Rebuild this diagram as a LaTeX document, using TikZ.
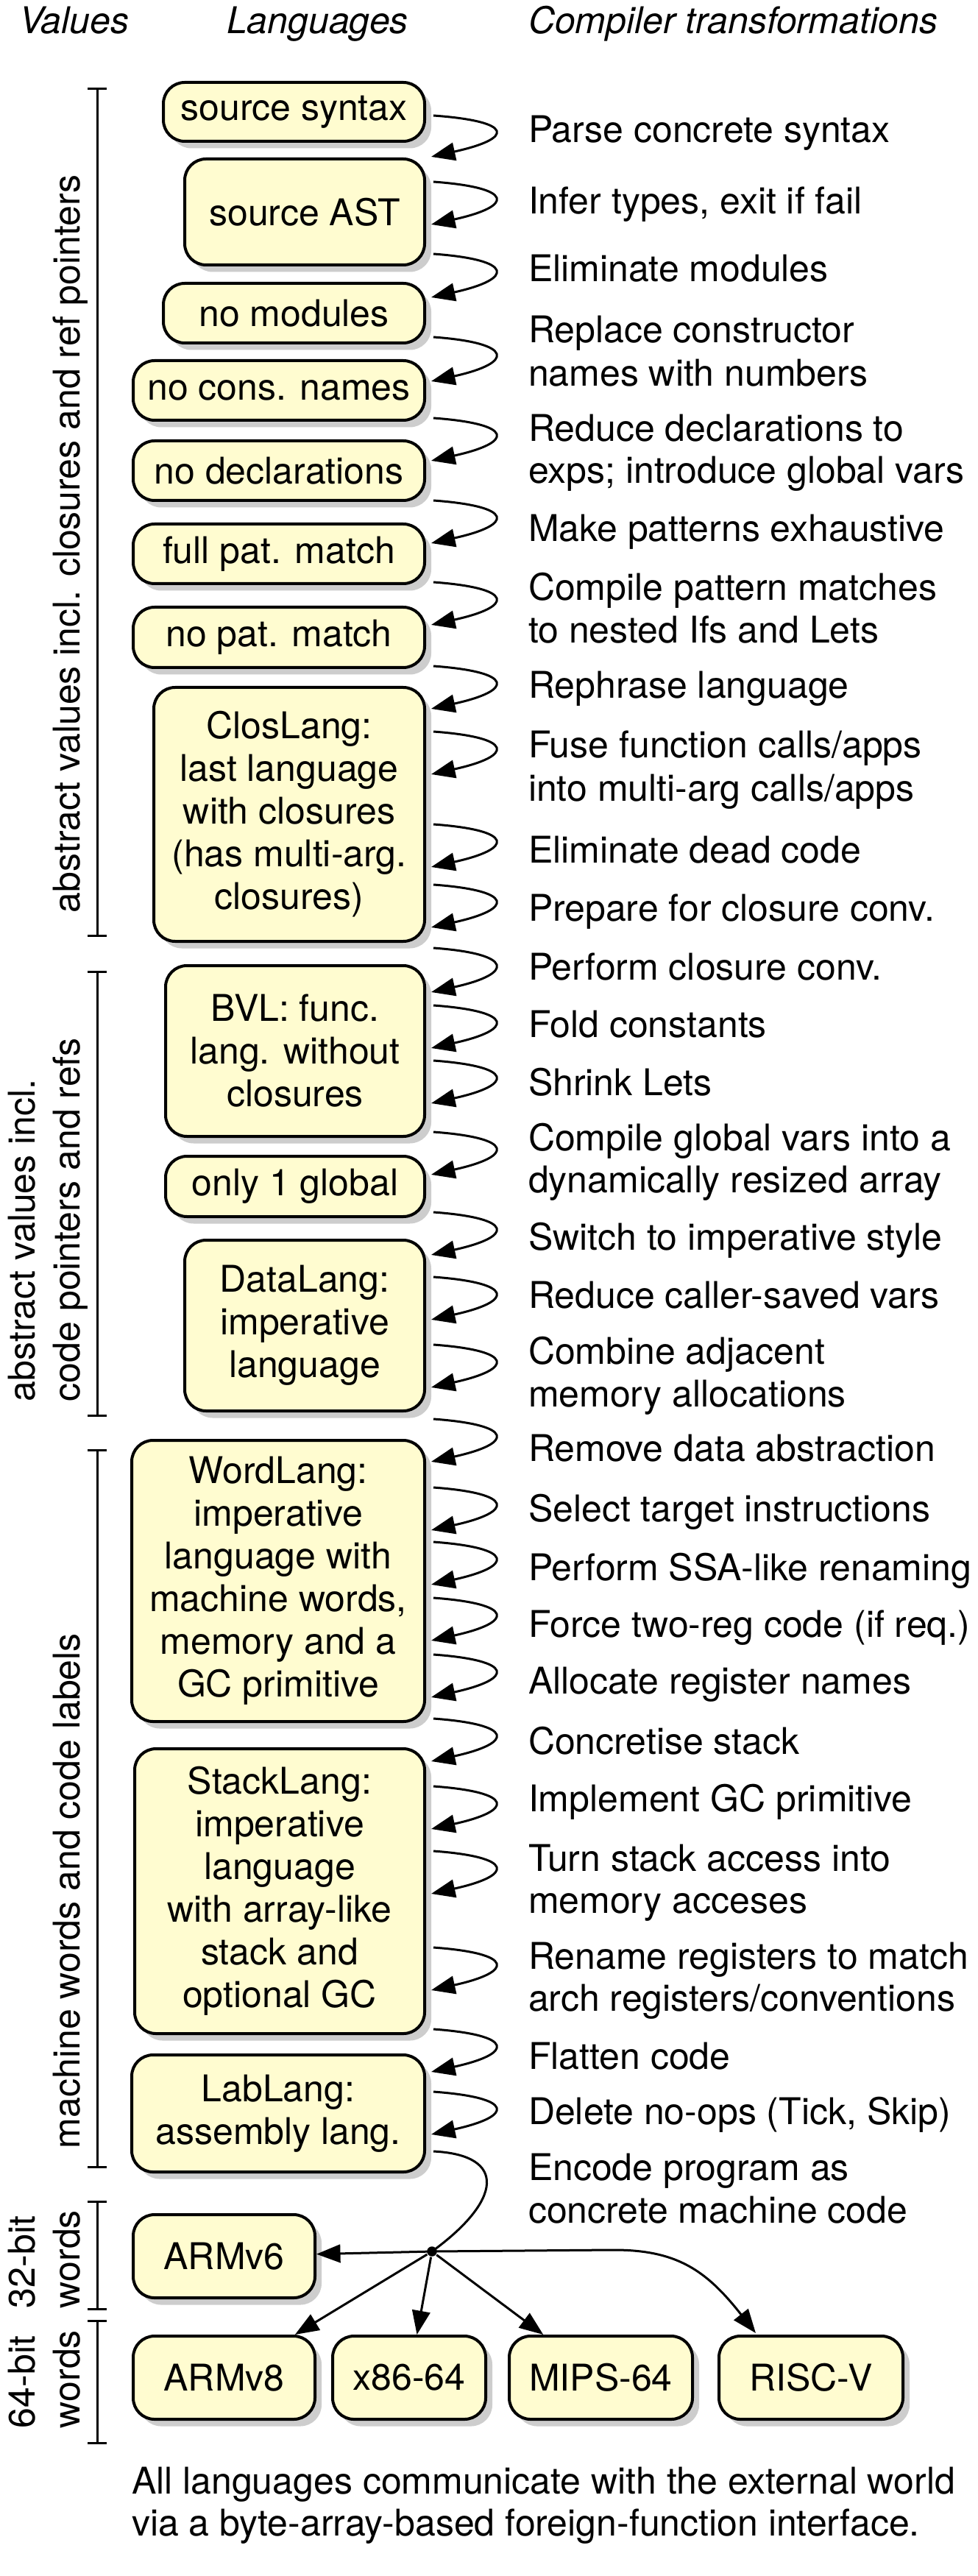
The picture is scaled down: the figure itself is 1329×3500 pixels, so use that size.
\documentclass[tikz,border=0pt]{standalone}
\usepackage{fontspec}
\setmainfont{TeX Gyre Heros}
\usetikzlibrary{arrows.meta,shadows,calc}
\definecolor{boxfill}{RGB}{255,252,208}
\definecolor{shadowgray}{RGB}{205,205,205}
\newcommand\tarr[3]{%
  \coordinate (#1s) at (589,#2);
  \coordinate (#1e) at (586,#3);
  \draw[arr] (#1s) .. controls ($(#1s)+(110,8)$) and ($(#1e)+(113,-25)$) .. (#1e);}
\begin{document}
\begin{tikzpicture}[x=0.2pt,y=-0.2pt,
  every node/.style={font=\fontsize{10pt}{11.6pt}\selectfont, inner sep=0pt},
  lang/.style={draw, line width=0.8pt, fill=boxfill, rounded corners=5.8pt, align=center,
    drop shadow={shadow xshift=1.8pt, shadow yshift=-1.9pt, fill=shadowgray, opacity=1}},
  tr/.style={anchor=base west, outer sep=0pt},
  ttl/.style={anchor=base west, outer sep=0pt, font=\fontsize{10pt}{11.6pt}\selectfont\itshape},
  side/.style={anchor=base west, outer sep=0pt, rotate=90},
  arr/.style={line width=0.6pt, -{Triangle[length=6.5pt,width=4.9pt]}},
  brk/.style={line width=0.6pt}
]
\useasboundingbox (0,0) rectangle (1329,3500);

% titles
\node[ttl] (hv) at (26,46) {Values};
\node[ttl] (hl) at (308,46) {Languages};
\node[ttl] (hc) at (718,46) {Compiler transformations};

% brackets
\draw[brk] (119,121) -- (145,121) (132,121) -- (132,1271) (119,1271) -- (145,1271);
\draw[brk] (119,1320) -- (145,1320) (132,1320) -- (132,1923) (119,1923) -- (145,1923);
\draw[brk] (119,1970) -- (145,1970) (132,1970) -- (132,2944) (119,2944) -- (145,2944);
\draw[brk] (119,2991) -- (145,2991) (132,2991) -- (132,3137) (119,3137) -- (145,3137);
\draw[brk] (119,3153) -- (145,3153) (132,3153) -- (132,3319) (119,3319) -- (145,3319);

% side labels
\node[side] (g1) at (109,1240) {abstract values incl. closures and ref pointers};
\node[side] (g2a) at (47,1904) {abstract values incl.};
\node[side] (g2b) at (109,1904) {code pointers and refs};
\node[side] (g3) at (109,2919) {machine words and code labels};
\node[side] (g4a) at (47,3136) {32-bit};
\node[side] (g4b) at (109,3136) {words};
\node[side] (g5a) at (47,3299) {64-bit};
\node[side] (g5b) at (109,3299) {words};

% language boxes
\node[lang, minimum width=71pt, minimum height=16pt] (ss) at (399.5,152) {source syntax};
\node[lang, minimum width=65.2pt, minimum height=28.8pt] (ast) at (414,288) {source AST};
\node[lang, minimum width=71pt, minimum height=16.2pt] (nomod) at (399.5,425.5) {no modules};
\node[lang, minimum width=79.2pt, minimum height=16.2pt] (nocons) at (379,530.5) {no cons. names};
\node[lang, minimum width=79.2pt, minimum height=16.2pt] (nodecl) at (379,639.5) {no declarations};
\node[lang, minimum width=79.2pt, minimum height=16.2pt] (fullpat) at (379,752.5) {full pat. match};
\node[lang, minimum width=79.2pt, minimum height=16.4pt] (nopat) at (379,866) {no pat. match};
\node[lang, minimum width=73.6pt, minimum height=69pt] (clos) at (393,1106.5)
  {ClosLang:\\last language\\with closures\\(has multi-arg.\\closures)};
\node[lang, minimum width=70.4pt, minimum height=46.4pt] (bvl) at (401,1428)
  {BVL: func.\\lang. without\\closures};
\node[lang, minimum width=70.4pt, minimum height=16.4pt] (glob) at (401,1612) {only 1 global};
\node[lang, minimum width=65.2pt, minimum height=46.4pt] (data) at (414,1801)
  {DataLang:\\imperative\\language};
\node[lang, minimum width=79.6pt, minimum height=76.4pt] (word) at (378,2148)
  {WordLang:\\imperative\\language with\\machine words,\\memory and a\\GC primitive};
\node[lang, minimum width=78.8pt, minimum height=77.4pt] (stack) at (380,2569.5)
  {StackLang:\\imperative\\language\\with array-like\\stack and\\optional GC};
\node[lang, minimum width=79.6pt, minimum height=31.8pt] (lab) at (378,2871.5)
  {LabLang:\\assembly lang.};
\node[lang, minimum width=49.4pt, minimum height=22.6pt] (armv6) at (304.5,3065.5) {ARMv6};
\node[lang, minimum width=49.4pt, minimum height=22.6pt] (armv8) at (304.5,3230.5) {ARMv8};
\node[lang, minimum width=41.6pt, minimum height=22.6pt] (x86) at (556,3230.5) {x86-64};
\node[lang, minimum width=49.8pt, minimum height=22.6pt] (mips) at (816.5,3230.5) {MIPS-64};
\node[lang, minimum width=50pt, minimum height=22.6pt] (riscv) at (1102,3230.5) {RISC-V};

% transformations text
\node[tr] (t1) at (718,194) {Parse concrete syntax};
\node[tr] (t2) at (718,291) {Infer types, exit if fail};
\node[tr] (t3) at (718,383) {Eliminate modules};
\node[tr] (t4a) at (718,466) {Replace constructor};
\node[tr] (t4b) at (718,525) {names with numbers};
\node[tr] (t5a) at (718,600) {Reduce declarations to};
\node[tr] (t5b) at (718,657) {exps; introduce global vars};
\node[tr] (t6) at (718,736) {Make patterns exhaustive};
\node[tr] (t7a) at (718,816) {Compile pattern matches};
\node[tr] (t7b) at (718,874) {to nested Ifs and Lets};
\node[tr] (t8) at (718,949) {Rephrase language};
\node[tr] (t9a) at (718,1030) {Fuse function calls/apps};
\node[tr] (t9b) at (718,1088) {into multi-arg calls/apps};
\node[tr] (t10) at (718,1172) {Eliminate dead code};
\node[tr] (t11) at (718,1251) {Prepare for closure conv.};
\node[tr] (t12) at (718,1331) {Perform closure conv.};
\node[tr] (t13) at (718,1409) {Fold constants};
\node[tr] (t14) at (718,1488) {Shrink Lets};
\node[tr] (t15a) at (718,1563) {Compile global vars into a};
\node[tr] (t15b) at (718,1620) {dynamically resized array};
\node[tr] (t16) at (718,1698) {Switch to imperative style};
\node[tr] (t17) at (718,1777) {Reduce caller-saved vars};
\node[tr] (t18a) at (718,1853) {Combine adjacent};
\node[tr] (t18b) at (718,1911) {memory allocations};
\node[tr] (t19) at (718,1985) {Remove data abstraction};
\node[tr] (t20) at (718,2067) {Select target instructions};
\node[tr] (t21) at (718,2147) {Perform SSA-like renaming};
\node[tr] (t22) at (718,2224) {Force two-reg code (if req.)};
\node[tr] (t23) at (718,2301) {Allocate register names};
\node[tr] (t24) at (718,2383) {Concretise stack};
\node[tr] (t25) at (718,2461) {Implement GC primitive};
\node[tr] (t26a) at (718,2542) {Turn stack access into};
\node[tr] (t26b) at (718,2599) {memory acceses};
\node[tr] (t27a) at (718,2675) {Rename registers to match};
\node[tr] (t27b) at (718,2732) {arch registers/conventions};
\node[tr] (t28) at (718,2811) {Flatten code};
\node[tr] (t29) at (718,2886) {Delete no-ops (Tick, Skip)};
\node[tr] (t30a) at (718,2962) {Encode program as};
\node[tr] (t30b) at (718,3020) {concrete machine code};

% transformation arrows
\tarr{a1}{157}{213}
\tarr{a2}{247}{305}
\tarr{a3}{345}{404}
\tarr{a4}{458}{518}
\tarr{a5}{568}{626}
\tarr{a6}{680}{738}
\tarr{a7}{791}{849}
\tarr{a8}{905}{963}
\tarr{a9}{994}{1052}
\tarr{a10}{1120}{1178}
\tarr{a11}{1202}{1260}
\tarr{a12}{1288}{1348}
\tarr{a13}{1366}{1424}
\tarr{a14}{1441}{1499}
\tarr{a15}{1538}{1596}
\tarr{a16}{1647}{1705}
\tarr{a17}{1735}{1793}
\tarr{a18}{1827}{1885}
\tarr{a19}{1928}{1986}
\tarr{a20}{2021}{2079}
\tarr{a21}{2095}{2153}
\tarr{a22}{2171}{2229}
\tarr{a23}{2248}{2306}
\tarr{a24}{2335}{2393}
\tarr{a25}{2427}{2485}
\tarr{a26}{2515}{2573}
\tarr{a27}{2646}{2704}
\tarr{a28}{2757}{2815}
\tarr{a29}{2842}{2900}

% code generation fan-out
\node[circle, fill=black, minimum size=2.7pt, inner sep=0pt] (dot) at (587,3059) {};
\coordinate (a30s) at (589,2923);
\coordinate (rbend) at (830,3057);
\draw[line width=0.6pt] (a30s) .. controls (690,2928) and (682,2990) .. (dot.center);
\draw[arr] (dot.center) -- (armv6);
\draw[arr] (dot) -- (armv8);
\draw[arr] (dot) -- (x86);
\draw[arr] (dot) -- (mips);
\draw[arr] (dot.center) -- (rbend) .. controls (920,3056) and (960,3085) .. ($(riscv.north west)+(52,-2)$);

% footnote
\node[tr] (f1) at (179,3388) {All languages communicate with the external world};
\node[tr] (f2) at (179,3445) {via a byte-array-based foreign-function interface.};
\end{tikzpicture}
\end{document}
